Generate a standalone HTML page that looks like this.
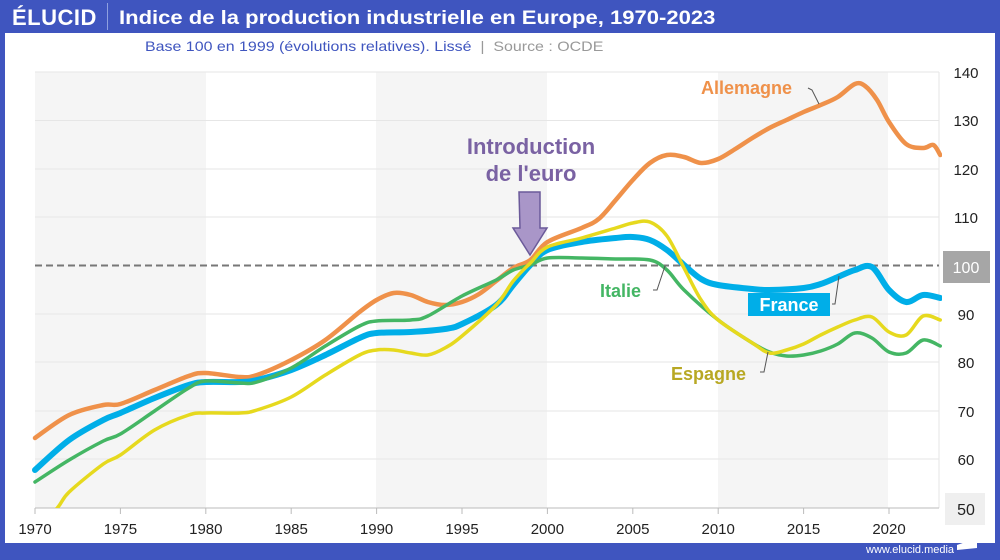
<!DOCTYPE html>
<html><head><meta charset="utf-8"><style>
html,body{margin:0;padding:0;}
body{width:1000px;height:560px;overflow:hidden;background:#3f55bf;font-family:"Liberation Sans",sans-serif;position:relative;}
#w{position:absolute;left:5px;top:33px;width:990px;height:510px;background:#fff;}
.t{position:absolute;color:#fff;font-weight:bold;}
</style></head><body>
<div class="t" style="left:12px;top:5px;font-size:22px;letter-spacing:0.5px">ÉLUCID</div>
<div style="position:absolute;left:107px;top:3px;width:1px;height:27px;background:#8fa0e0"></div>
<div class="t" style="left:119px;top:7px;font-size:19.5px;transform:scaleX(1.13);transform-origin:0 0;white-space:nowrap">Indice de la production industrielle en Europe, 1970-2023</div>
<div id="w"></div>
<div style="position:absolute;left:145px;top:38px;font-size:14px;color:#3f55bf;transform:scaleX(1.14);transform-origin:0 0;white-space:nowrap">Base 100 en 1999 (évolutions relatives). Lissé <span style="color:#999">&nbsp;|&nbsp; Source : OCDE</span></div>
<div style="position:absolute;left:866px;top:544px;font-size:11px;color:#fff">www.elucid.media</div>
<svg style="position:absolute;left:957px;top:538px" width="20" height="17"><polygon points="0,7 20,0 20,10 0,12" fill="#fff"/></svg>
<svg id="s" width="1000" height="543" style="position:absolute;left:0;top:0">
<rect x="35" y="72" width="171" height="436" fill="#f5f5f5"/>
<rect x="376" y="72" width="171" height="436" fill="#f5f5f5"/>
<rect x="718" y="72" width="170" height="436" fill="#f5f5f5"/>
<g stroke="#e6e6e6" stroke-width="1">
<line x1="35" x2="939" y1="72" y2="72"/><line x1="35" x2="939" y1="120.5" y2="120.5"/><line x1="35" x2="939" y1="169" y2="169"/><line x1="35" x2="939" y1="217" y2="217"/><line x1="35" x2="939" y1="314" y2="314"/><line x1="35" x2="939" y1="362" y2="362"/><line x1="35" x2="939" y1="411" y2="411"/><line x1="35" x2="939" y1="459" y2="459"/>
<line x1="939" x2="939" y1="72" y2="508"/>
</g>
<line x1="35" x2="939" y1="508" y2="508" stroke="#bbb"/>
<g id="ticks" stroke="#bbb"></g>
<line x1="35" x2="939" y1="265.5" y2="265.5" stroke="#777" stroke-width="2" stroke-dasharray="7,4"/>
<g id="lines" fill="none" stroke-linecap="round" stroke-linejoin="round"></g>
<g font-size="15" fill="#222" text-anchor="middle" id="xl"></g>
<g font-size="15" fill="#222" text-anchor="middle">
<text x="966" y="78">140</text><text x="966" y="126">130</text><text x="966" y="175">120</text><text x="966" y="223">110</text>
<rect x="943" y="251" width="47" height="32" fill="#a6a6a6"/><text x="966" y="273" fill="#fff" font-size="16">100</text>
<text x="966" y="320">90</text><text x="966" y="368">80</text><text x="966" y="417">70</text><text x="966" y="465">60</text>
<rect x="945" y="493" width="40" height="32" fill="#efefef"/><text x="966" y="515" font-size="16">50</text>
</g>
<polygon points="519,192 540,192 540,228 547,228 530,255 513,228 520,228 519,192" fill="#a996c8" stroke="#6b5a9a" stroke-width="1.5"/>
<text x="531" y="154" font-size="22" font-weight="bold" fill="#7a62a3" text-anchor="middle">Introduction</text>
<text x="531" y="181" font-size="22" font-weight="bold" fill="#7a62a3" text-anchor="middle">de l'euro</text>
<text x="701" y="94" font-size="18" font-weight="bold" fill="#ef914a">Allemagne</text>
<path d="M808,88 L812,90 L819,104" stroke="#555" fill="none"/>
<text x="600" y="297" font-size="18" font-weight="bold" fill="#44b664">Italie</text>
<path d="M653,290 L657,290 L665,266" stroke="#555" fill="none"/>
<rect x="748" y="293" width="82" height="23" fill="#00aee8"/>
<text x="789" y="311" font-size="18" font-weight="bold" fill="#fff" text-anchor="middle">France</text>
<path d="M832,304 L835,304 L839,276" stroke="#555" fill="none"/>
<text x="671" y="380" font-size="18" font-weight="bold" fill="#b8a823">Espagne</text>
<path d="M760,372 L764,372 L768,352" stroke="#555" fill="none"/>
</svg>
<script>
function X(y){return 35+(y-1970)*17.08;}
var S={
"#ef914a":[[1970,438],[1972,415],[1974,405],[1975,404],[1977,390],[1979,376],[1980,373],[1982,377],[1983,375],[1985,360],[1987,340],[1989,312],[1990,300],[1991,293],[1992,295],[1993,302],[1994,305],[1995,302],[1996,294],[1997,281],[1998,268],[1999,260],[2000,242],[2002,228],[2003,219],[2004,200],[2005,180],[2006,163],[2007,155],[2008,157],[2009,163],[2010,159],[2011,149],[2012,138],[2013,128],[2014,120],[2015,112],[2016,105],[2017,97],[2018,84],[2018.6,86],[2019.3,100],[2020,122],[2021,144],[2022,148],[2022.6,145],[2023,155]],
"#00aee8":[[1970,470],[1972,440],[1974,420],[1975,413],[1977,398],[1979,385],[1980,382],[1982,382],[1983,380],[1985,370],[1987,355],[1989,338],[1990,333],[1992,332],[1994,329],[1995,324],[1997,305],[1998,285],[1999,265],[2000,250],[2002,242],[2004,238],[2005,237],[2006,240],[2007,250],[2008,265],[2009,279],[2010,285],[2012,289],[2013,290],[2015,288],[2016,284],[2017,277],[2018,270],[2019,267],[2020,290],[2021,302],[2022,295],[2023,298]],
"#44b664":[[1970,482],[1972,460],[1974,441],[1975,434],[1977,411],[1979,388],[1980,381],[1982,383],[1983,382],[1985,368],[1987,346],[1989,326],[1990,321],[1992,320],[1993,316],[1995,296],[1997,280],[1998,270],[1999,265],[2000,258],[2002,258],[2004,259],[2006,260],[2007,270],[2008,290],[2010,320],[2012,343],[2013,352],[2014,356],[2015,355],[2016,351],[2017,344],[2018,333],[2019,338],[2020,352],[2021,353],[2022,340],[2023,346]],
"#e6d91e":[[1970,530],[1971.3,508],[1972,492],[1974,464],[1975,455],[1977,430],[1979,415],[1980,413],[1982,413],[1983,410],[1985,397],[1987,375],[1989,355],[1990,350],[1991,350],[1992,353],[1993,355],[1994,348],[1995,336],[1997,305],[1998,281],[1999,263],[2000,247],[2002,238],[2004,228],[2005,223],[2006,222],[2007,236],[2008,268],[2009,300],[2010,320],[2012,343],[2013,353],[2014,350],[2015,344],[2016,335],[2017,327],[2018,320],[2019,317],[2020,332],[2021,335],[2022,316],[2023,320]]};
var g=document.getElementById('lines');
for(var c in S){var p=S[c].map(function(q){return [X(q[0]),q[1]];});
var d="M"+p[0][0]+","+p[0][1];
for(var i=0;i<p.length-1;i++){var p0=p[i-1]||p[i],p1=p[i],p2=p[i+1],p3=p[i+2]||p2;
d+=" C"+(p1[0]+(p2[0]-p0[0])/6)+","+(p1[1]+(p2[1]-p0[1])/6)+" "+(p2[0]-(p3[0]-p1[0])/6)+","+(p2[1]-(p3[1]-p1[1])/6)+" "+p2[0]+","+p2[1];}
var e=document.createElementNS("http://www.w3.org/2000/svg","path");e.setAttribute("d",d);e.setAttribute("stroke",c);e.setAttribute("stroke-width",c=="#00aee8"?6:(c=="#ef914a"?4.5:3.5));g.appendChild(e);}
var cp=document.createElementNS("http://www.w3.org/2000/svg","clipPath");cp.id="cl";cp.innerHTML='<rect x="30" y="60" width="912" height="448"/>';document.getElementById('s').appendChild(cp);g.setAttribute("clip-path","url(#cl)");
var xl=document.getElementById('xl'),tk=document.getElementById('ticks');
for(var y=1970;y<=2020;y+=5){xl.innerHTML+='<text x="'+X(y)+'" y="534">'+y+'</text>';tk.innerHTML+='<line x1="'+X(y)+'" x2="'+X(y)+'" y1="508" y2="514"/>';}
</script>
</body></html>
